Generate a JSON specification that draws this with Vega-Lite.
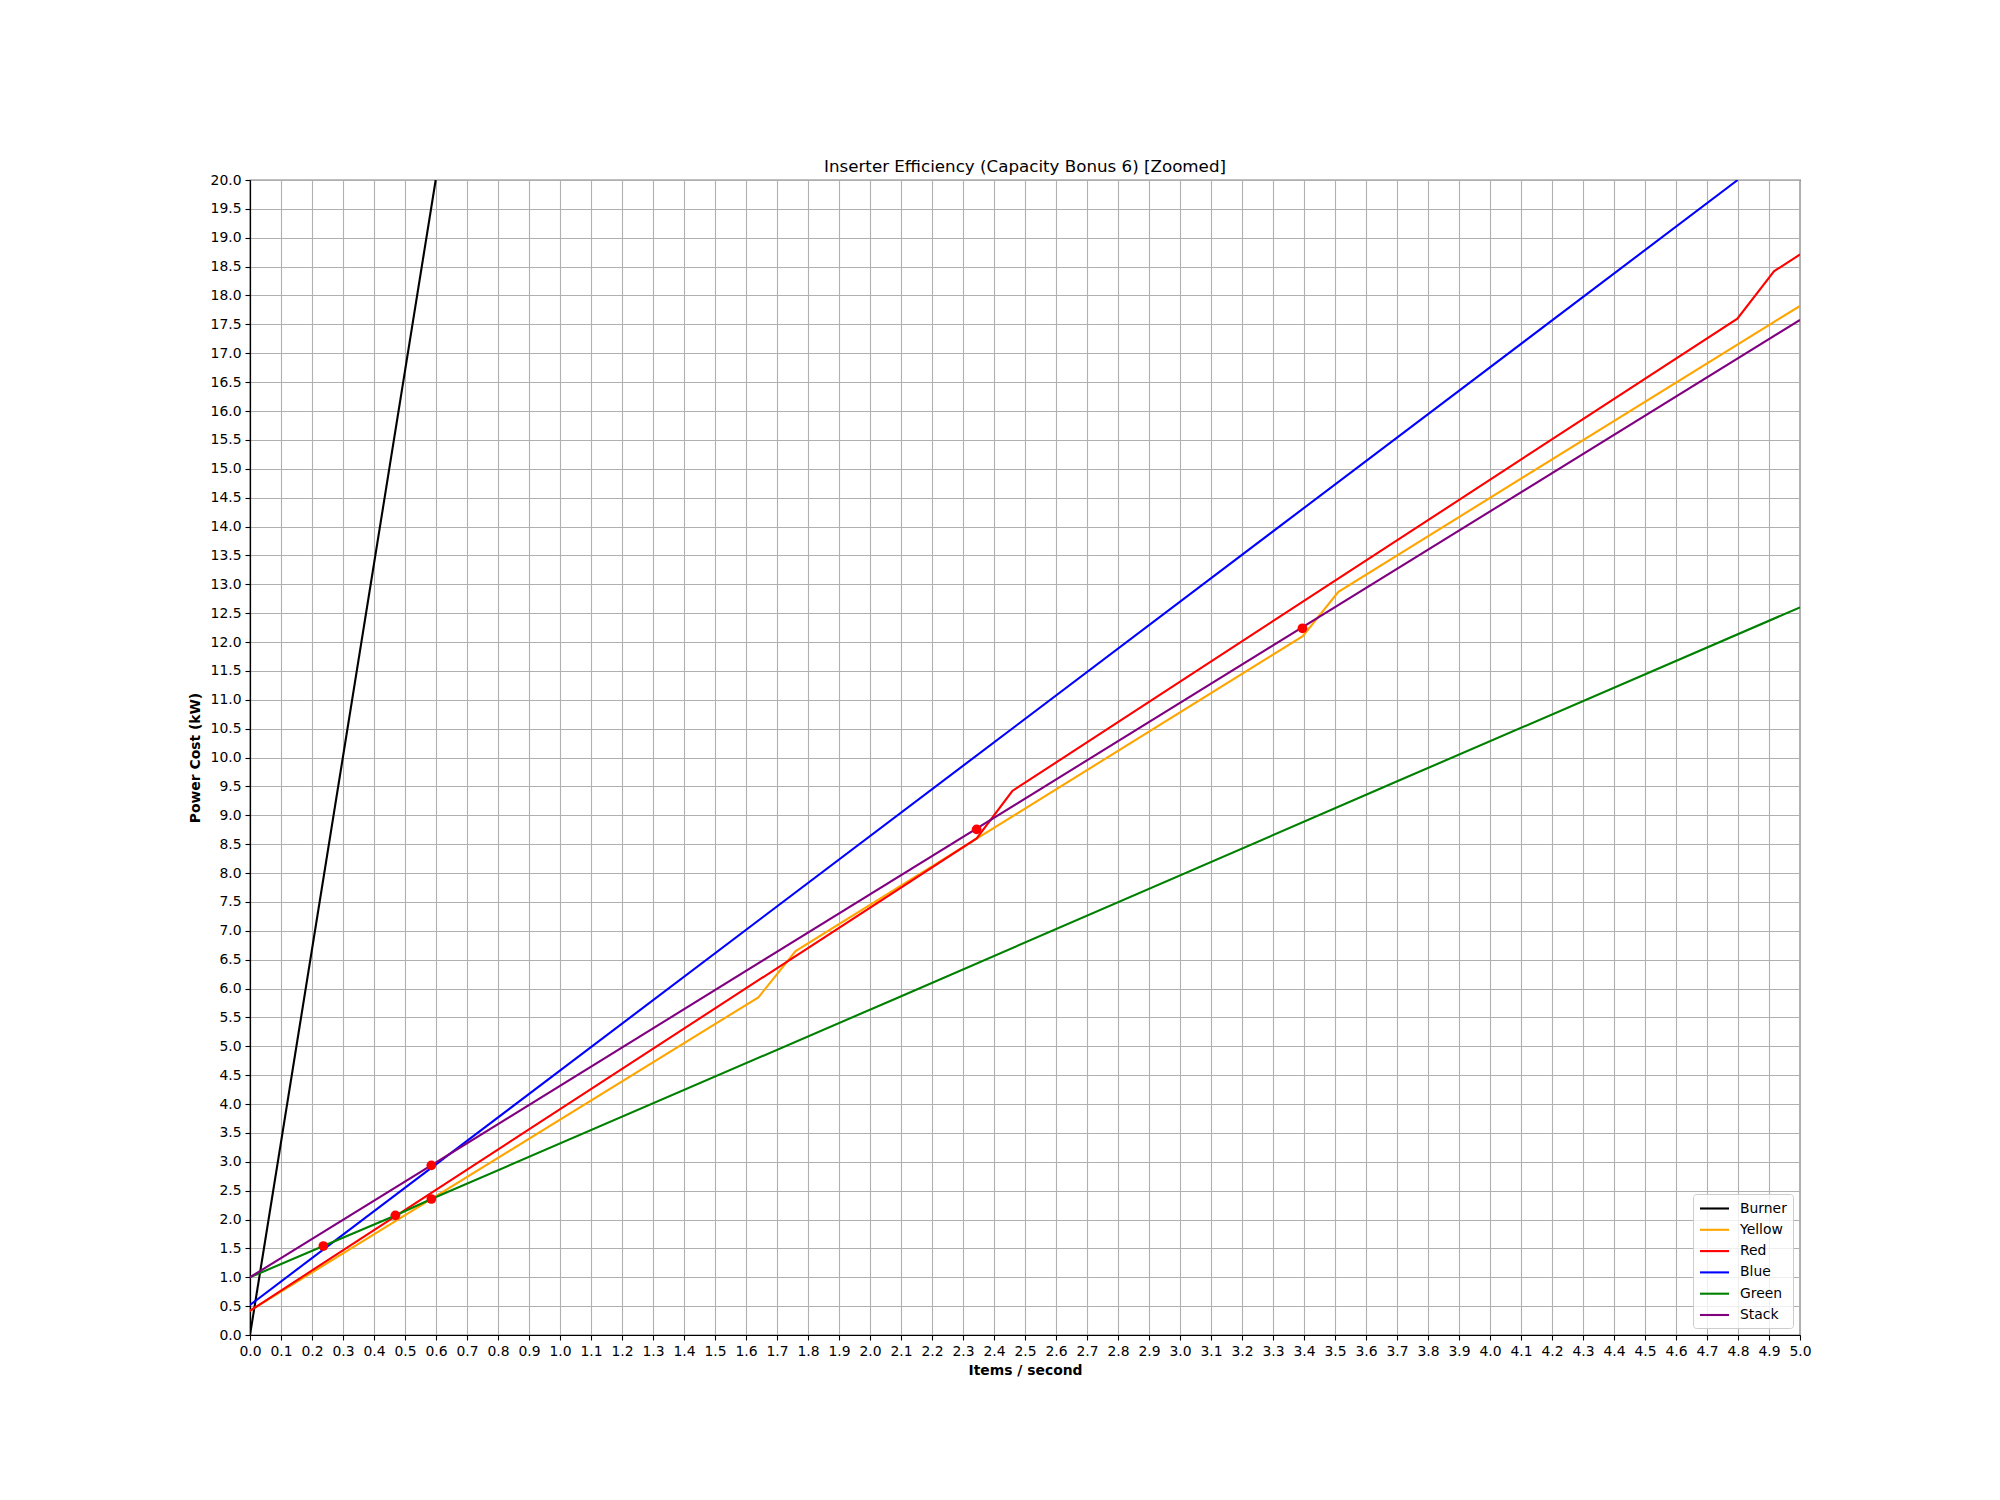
{
  "$schema": "https://vega.github.io/schema/vega-lite/v6.json",
  "width": 1550,
  "height": 1155,
  "autosize": {"type": "none"},
  "padding": {"left": 250, "top": 180, "right": 200, "bottom": 165},
  "background": "white",
  "config": {
    "font": "DejaVu Sans",
    "view": {"stroke": "black", "strokeWidth": 1.2},
    "axis": {
      "labelFont": "DejaVu Sans",
      "labelFontSize": 13.9,
      "labelColor": "black",
      "titleFont": "DejaVu Sans",
      "titleFontSize": 13.9,
      "titleFontWeight": "bold",
      "titleColor": "black",
      "gridColor": "#b0b0b0",
      "gridWidth": 1.1,
      "gridOpacity": 1,
      "tickColor": "black",
      "tickSize": 5,
      "tickWidth": 1.1,
      "domainColor": "black",
      "domainWidth": 1.2,
      "labelPadding": 4,
      "labelOverlap": false,
      "labelFlush": false,
      "tickCount": 200
    },
    "title": {"font": "DejaVu Sans", "fontSize": 16.7, "fontWeight": "normal", "color": "black", "offset": -3}
  },
  "title": {"text": "Inserter Efficiency (Capacity Bonus 6) [Zoomed]", "anchor": "middle", "offset": -3},
  "datasets": {
    "lines": [
      {"series": "Burner", "x": 0, "y": 0},
      {"series": "Burner", "x": 0.599, "y": 20},
      {"series": "Yellow", "x": 0, "y": 0.42},
      {"series": "Yellow", "x": 1.64, "y": 5.847},
      {"series": "Yellow", "x": 1.76, "y": 6.649},
      {"series": "Yellow", "x": 2.344, "y": 8.595},
      {"series": "Yellow", "x": 3.396, "y": 12.1},
      {"series": "Yellow", "x": 3.511, "y": 12.87},
      {"series": "Yellow", "x": 5, "y": 17.82},
      {"series": "Red", "x": 0, "y": 0.42},
      {"series": "Red", "x": 2.344, "y": 8.6},
      {"series": "Red", "x": 2.459, "y": 9.42},
      {"series": "Red", "x": 4.798, "y": 17.6},
      {"series": "Red", "x": 4.916, "y": 18.42},
      {"series": "Red", "x": 5, "y": 18.71},
      {"series": "Blue", "x": 0, "y": 0.52},
      {"series": "Blue", "x": 4.799, "y": 20},
      {"series": "Green", "x": 0, "y": 1.0},
      {"series": "Green", "x": 0.2366, "y": 1.54},
      {"series": "Green", "x": 0.469, "y": 2.07},
      {"series": "Green", "x": 0.585, "y": 2.355},
      {"series": "Green", "x": 2.097, "y": 5.858},
      {"series": "Green", "x": 3.71, "y": 9.61},
      {"series": "Green", "x": 5, "y": 12.6},
      {"series": "Stack", "x": 0, "y": 1.0},
      {"series": "Stack", "x": 5, "y": 17.576}
    ],
    "dots": [
      {"x": 0.2366, "y": 1.541},
      {"x": 0.469, "y": 2.072},
      {"x": 0.585, "y": 2.938},
      {"x": 0.585, "y": 2.355},
      {"x": 2.344, "y": 8.756},
      {"x": 3.395, "y": 12.237}
    ]
  },
  "layer": [
    {
      "data": {"name": "lines"},
      "mark": {"type": "line", "strokeWidth": 2.1, "clip": true},
      "encoding": {
        "x": {
          "field": "x", "type": "quantitative",
          "scale": {"domain": [0, 5], "nice": false, "zero": false},
          "axis": {
            "title": "Items / second",
            "format": ".1f",
            "titlePadding": 6,
            "tickCount": 200,
            "values": [0,0.1,0.2,0.3,0.4,0.5,0.6,0.7,0.8,0.9,1.0,1.1,1.2,1.3,1.4,1.5,1.6,1.7,1.8,1.9,2.0,2.1,2.2,2.3,2.4,2.5,2.6,2.7,2.8,2.9,3.0,3.1,3.2,3.3,3.4,3.5,3.6,3.7,3.8,3.9,4.0,4.1,4.2,4.3,4.4,4.5,4.6,4.7,4.8,4.9,5.0]
          }
        },
        "y": {
          "field": "y", "type": "quantitative",
          "scale": {"domain": [0, 20], "nice": false},
          "axis": {
            "title": "Power Cost (kW)",
            "format": ".1f",
            "titlePadding": 8,
            "tickCount": 200,
            "values": [0,0.5,1,1.5,2,2.5,3,3.5,4,4.5,5,5.5,6,6.5,7,7.5,8,8.5,9,9.5,10,10.5,11,11.5,12,12.5,13,13.5,14,14.5,15,15.5,16,16.5,17,17.5,18,18.5,19,19.5,20]
          }
        },
        "color": {
          "field": "series", "type": "nominal",
          "scale": {
            "domain": ["Burner", "Yellow", "Red", "Blue", "Green", "Stack"],
            "range": ["black", "orange", "red", "blue", "green", "purple"]
          },
          "legend": {
            "title": null,
            "orient": "bottom-right",
            "offset": 7,
            "symbolType": "M-2,0H2",
            "symbolSize": 210,
            "symbolOffset": 7,
            "symbolStrokeWidth": 2.1,
            "labelFontSize": 13.9,
            "labelFont": "DejaVu Sans",
            "labelColor": "black",
            "labelOffset": 17,
            "rowPadding": 5.3,
            "padding": 6,
            "fillColor": "rgba(255,255,255,0.8)",
            "strokeColor": "#cccccc",
            "cornerRadius": 3
          }
        }
      }
    },
    {
      "data": {"name": "dots"},
      "mark": {"type": "point", "filled": true, "color": "red", "size": 95, "opacity": 1},
      "encoding": {
        "x": {"field": "x", "type": "quantitative"},
        "y": {"field": "y", "type": "quantitative"}
      }
    }
  ]
}
